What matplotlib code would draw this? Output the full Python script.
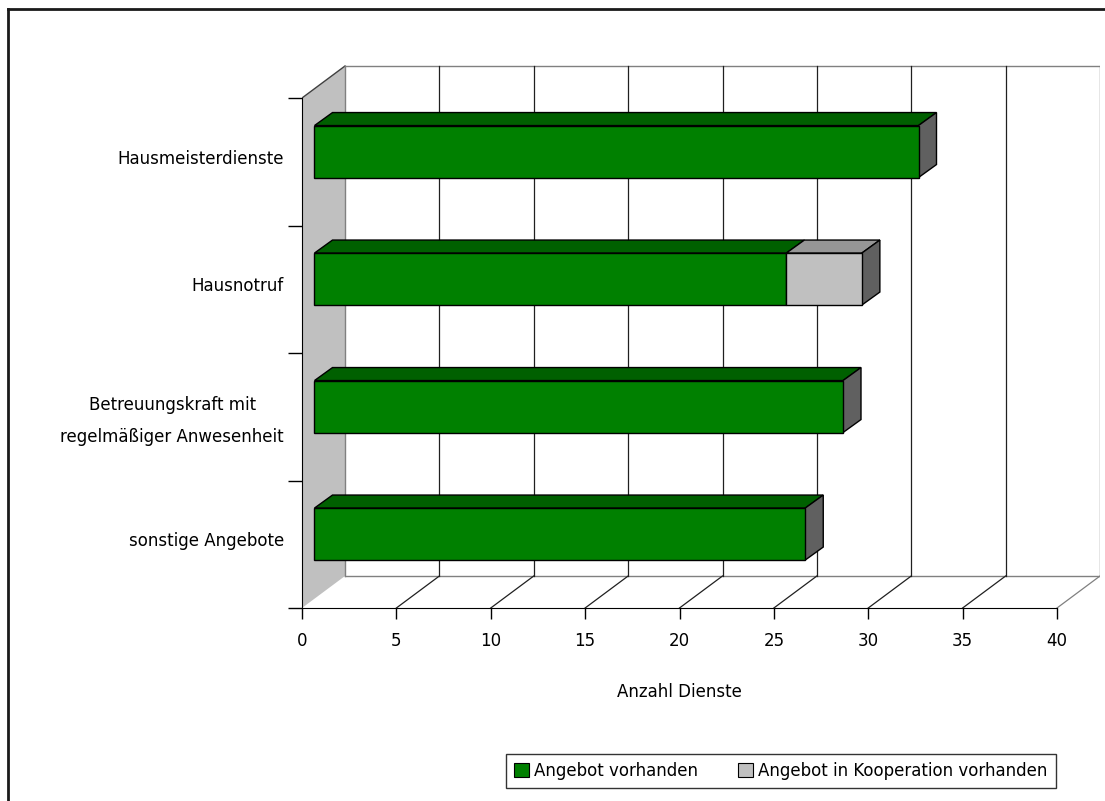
import matplotlib
matplotlib.use("Agg")
import matplotlib.pyplot as plt
from matplotlib.patches import Polygon, Rectangle, Patch
from matplotlib.lines import Line2D

# data
categories = ["sonstige Angebote",
              "Betreuungskraft mit\nregelmäßiger Anwesenheit",
              "Hausnotruf",
              "Hausmeisterdienste"]
vorhanden = [26, 28, 25, 32]
kooperation = [0, 0, 4, 0]
series_names = ["Angebot vorhanden", "Angebot in Kooperation vorhanden"]
xticks = [0, 5, 10, 15, 20, 25, 30, 35, 40]

plt.rcParams['font.family'] = ['DejaVu Sans']
FS = 12

GREEN = "#008000"
GREEN_TOP = "#006000"
GRAY = "#C0C0C0"
GRAY_TOP = "#969696"
SIDE = "#606060"

W, H = 1105, 801
fig = plt.figure(figsize=(W / 100, H / 100), dpi=100)

# 3d box: front plane 0..40 x 0..4, wall depth offset (DX, DY)
px_per_unit = 18.875
px_per_cat = 127.5
DX = 43 / px_per_unit
DY = 32 / px_per_cat
x_left, x_right = 302, 1100
y_bot, y_top = 608, 65
ax = fig.add_axes([x_left / W, 1 - y_bot / H, (x_right - x_left) / W, (y_bot - y_top) / H])
ax.set_xlim(0, (x_right - x_left) / px_per_unit)
ax.set_ylim(0, (y_bot - y_top) / px_per_cat)
ax.patch.set_visible(False)

n = len(categories)
xmax = xticks[-1]

# side wall
ax.add_patch(Polygon([(0, 0), (DX, DY), (DX, n + DY), (0, n)], closed=True,
                     facecolor=GRAY, edgecolor="none", zorder=1))
ax.plot([0, DX], [n, n + DY], color="#404040", lw=1, zorder=2)
ax.plot([DX, DX], [DY, n + DY], color="#808080", lw=1, zorder=2)
# back wall frame
ax.plot([DX, xmax + DX], [n + DY, n + DY], color="#808080", lw=1, zorder=2)
ax.plot([xmax + DX, xmax + DX], [DY, n + DY], color="#808080", lw=1, zorder=2)
ax.plot([DX, xmax + DX], [DY, DY], color="#808080", lw=1, zorder=2)
# gridlines on back wall and floor
for t in xticks[1:]:
    c = "#808080" if t == xmax else "#202020"
    if t != xmax:
        ax.plot([t + DX, t + DX], [DY, n + DY], color="#202020", lw=0.9, zorder=2)
    ax.plot([t, t + DX], [0, DY], color=c, lw=0.9, zorder=2)

# bars
bh = 52 / px_per_cat
bdx = 18 / px_per_unit
bdy = 13 / px_per_cat
ox = (DX - bdx) / 2
oy = 0.08


def draw_box(x0, w, yc, front, top, side, with_side):
    y0 = yc - bh / 2
    y1 = yc + bh / 2
    x1 = x0 + w
    ax.add_patch(Polygon([(x0, y1), (x0 + bdx, y1 + bdy), (x1 + bdx, y1 + bdy), (x1, y1)],
                         closed=True, facecolor=top, edgecolor="black", lw=1, zorder=4))
    ax.add_patch(Rectangle((x0, y0), w, bh, facecolor=front, edgecolor="black", lw=1, zorder=5))
    if with_side:
        ax.add_patch(Polygon([(x1, y0), (x1 + bdx, y0 + bdy), (x1 + bdx, y1 + bdy), (x1, y1)],
                             closed=True, facecolor=side, edgecolor="black", lw=1, zorder=4))


for i, (v, k) in enumerate(zip(vorhanden, kooperation)):
    yc = i + 0.5 + oy
    draw_box(ox, v, yc, GREEN, GREEN_TOP, SIDE, k == 0)
    if k > 0:
        draw_box(ox + v, k, yc, GRAY, GRAY_TOP, SIDE, True)

# axes
for s in ["top", "right"]:
    ax.spines[s].set_visible(False)
ax.spines["bottom"].set_bounds(0, xmax)
ax.spines["left"].set_bounds(0, n)
ax.spines["bottom"].set_zorder(6)
ax.spines["left"].set_zorder(6)
ax.set_xticks(xticks)
ax.set_xticklabels([str(t) for t in xticks], fontsize=FS)
ax.set_yticks(range(n + 1))
ax.set_yticklabels([])
ax.set_yticks([i + 0.54 for i in range(n)], minor=True)
ax.set_yticklabels(categories, minor=True, fontsize=FS, multialignment="center",
                   linespacing=2.0)
ax.tick_params(axis="x", direction="out", length=8, width=1, pad=9, colors="black")
ax.tick_params(axis="y", which="major", direction="out", length=10, width=1)
ax.tick_params(axis="y", which="minor", length=0, pad=13)
ax.set_xlabel("Anzahl Dienste", fontsize=FS)
ax.xaxis.set_label_coords((679 - x_left) / (x_right - x_left), -(683 - y_bot) / (y_bot - y_top))

# legend
handles = [Patch(facecolor=GREEN, edgecolor="black", lw=0.8),
           Patch(facecolor=GRAY, edgecolor="black", lw=0.8)]
leg = fig.legend(handles, series_names, loc="center", ncol=2,
                 bbox_to_anchor=(781 / W, 1 - 771 / H), fontsize=FS,
                 frameon=True, fancybox=False, handlelength=0.9, handleheight=0.9,
                 handletextpad=0.3, columnspacing=2.4, borderpad=0.5, borderaxespad=0)
leg.get_frame().set_edgecolor("black")
leg.get_frame().set_linewidth(1)

# outer frame
fig.add_artist(Line2D([8 / W, 8 / W], [0, 1 - 9 / H], color="#1a1a1a", lw=2))
fig.add_artist(Line2D([8 / W, 1], [1 - 9 / H, 1 - 9 / H], color="#1a1a1a", lw=2))

fig.savefig("out.png", dpi=100)
